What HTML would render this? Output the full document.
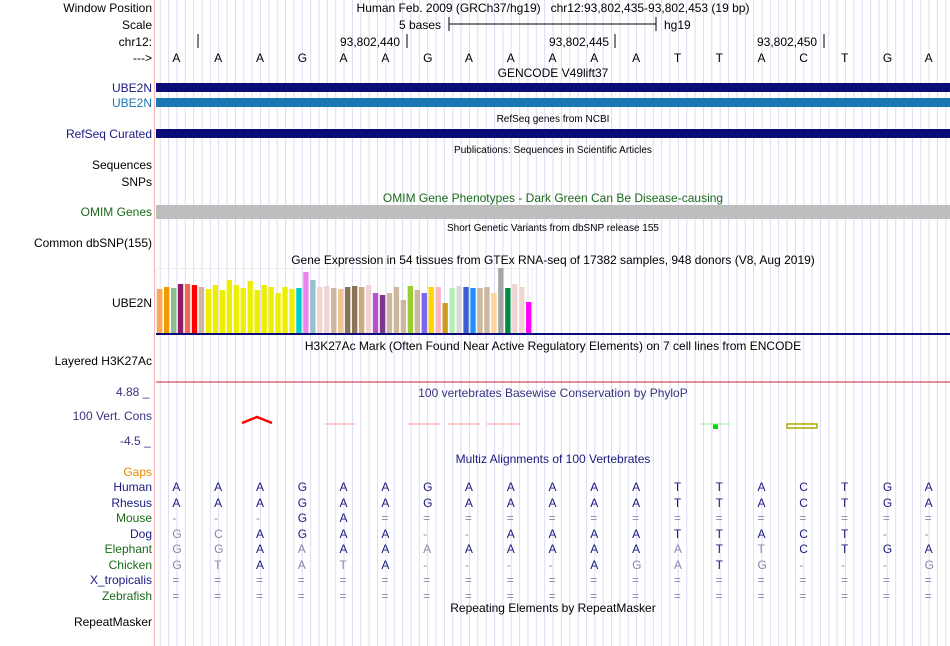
<!DOCTYPE html>
<html><head><meta charset="utf-8"><style>
body{margin:0;width:950px;height:646px;background:#fff;position:relative;overflow:hidden;font-family:"Liberation Sans",sans-serif;font-size:12px;color:#000}
.a{position:absolute;white-space:nowrap}
.l{position:absolute;right:798px;text-align:right;white-space:nowrap}
.c{position:absolute;left:156px;width:794px;text-align:center;white-space:nowrap}
</style></head><body>
<svg id="grid" width="950" height="646" style="position:absolute;left:0;top:0"></svg>
<div class="l" style="top:1px">Window Position</div>
<div class="l" style="top:18px">Scale</div>
<div class="l" style="top:35px">chr12:</div>
<div class="l" style="top:51px">---&gt;</div>
<div class="c" style="top:1px">Human Feb. 2009 (GRCh37/hg19)&nbsp;&nbsp; chr12:93,802,435-93,802,453 (19 bp)</div>
<div class="a" style="left:399px;top:18px">5 bases</div>
<div class="a" style="left:664px;top:18px">hg19</div>
<div class="a" style="left:340px;top:35px">93,802,440</div>
<div class="a" style="left:549px;top:35px">93,802,445</div>
<div class="a" style="left:757px;top:35px">93,802,450</div>
<div class="c" style="top:66px">GENCODE V49lift37</div>
<div class="l" style="top:81px;color:#1a1a80">UBE2N</div>
<div class="l" style="top:96px;color:#1b76b4">UBE2N</div>
<div class="c" style="top:114px;font-size:10px">RefSeq genes from NCBI</div>
<div class="l" style="top:127px;color:#1a1a80">RefSeq Curated</div>
<div class="c" style="top:145px;font-size:10px">Publications: Sequences in Scientific Articles</div>
<div class="l" style="top:158px">Sequences</div>
<div class="l" style="top:175px">SNPs</div>
<div class="c" style="top:191px;color:#1a6a1a">OMIM Gene Phenotypes - Dark Green Can Be Disease-causing</div>
<div class="l" style="top:205px;color:#1a6a1a">OMIM Genes</div>
<div class="c" style="top:223px;font-size:10px">Short Genetic Variants from dbSNP release 155</div>
<div class="l" style="top:236px">Common dbSNP(155)</div>
<div class="c" style="top:253px">Gene Expression in 54 tissues from GTEx RNA-seq of 17382 samples, 948 donors (V8, Aug 2019)</div>
<div class="l" style="top:296px">UBE2N</div>
<div class="c" style="top:339px">H3K27Ac Mark (Often Found Near Active Regulatory Elements) on 7 cell lines from ENCODE</div>
<div class="l" style="top:354px">Layered H3K27Ac</div>
<div class="a" style="left:116px;top:385px;color:#333380">4.88 _</div>
<div class="c" style="top:386px;color:#333380">100 vertebrates Basewise Conservation by PhyloP</div>
<div class="l" style="top:409px;color:#333380">100 Vert. Cons</div>
<div class="a" style="left:120px;top:434px;color:#333380">-4.5 _</div>
<div class="c" style="top:452px;color:#1a1a80">Multiz Alignments of 100 Vertebrates</div>
<div class="c" style="top:601px">Repeating Elements by RepeatMasker</div>
<div class="l" style="top:615px">RepeatMasker</div>
<div id="txt"></div>
<script>
const bases="AAAGAAGAAAAATTACTGA".split("");
const gtexValues=[44,46,45,49,49,48,46,44,48,43,53,48,45,52,43,48,46,40,46,44,45,61,53,46,47,45,44,46,47,46,48,40,38,40,46,33,47,43,40,46,46,30,45,47,46,45,45,46,40,65,45,49,46,31];
const gtexColors=["#ffa54f","#ee9a00","#8fbc8f","#8b1c62","#ee6a50","#ff0000","#cdb79e","#eeee00","#eeee00","#eeee00","#eeee00","#eeee00","#eeee00","#eeee00","#eeee00","#eeee00","#eeee00","#eeee00","#eeee00","#eeee00","#00cdcd","#ee82ee","#9ac0cd","#eed5d2","#eed5d2","#cdb79e","#eec591","#8b7355","#8b7355","#cdaa7d","#eed5d2","#b452cd","#7a378b","#cdb79e","#cdb79e","#cdb79e","#9acd32","#cdb79e","#7b68ee","#ffd700","#ffb6c1","#cd9b1d","#b4eeb4","#d9d9d9","#3a5fcd","#1e90ff","#cdb79e","#cdb79e","#ffd39b","#a6a6a6","#008b45","#eed5d2","#eed5d2","#ff00ff"];
const species=["Human","Rhesus","Mouse","Dog","Elephant","Chicken","X_tropicalis","Zebrafish"];
const spColors=["#1a1a80","#1a1a80","#1a6a1a","#1a1a80","#1a6a1a","#1a6a1a","#1a1a80","#1a6a1a"];
const alignRows=["AAAGAAGAAAAATTACTGA","AAAGAAGAAAAATTACTGA","---GA==============","GCAGAA--AAAATTACT--","GGAAAAAAAAAAATTCTGA","GTAATA----AGATG---G","===================","==================="];
const gapShown="Gaps";
const NS="http://www.w3.org/2000/svg";
const g=document.getElementById("grid");
const X0=156,W=794,bw=W/19;
function bx(i){return X0+bw*(i+0.5);}
function add(tag,at){const e=document.createElementNS(NS,tag);for(const k in at)e.setAttribute(k,at[k]);g.appendChild(e);return e;}
for(let x=X0+4.2;x<950;x+=bw/5){const e=add("line",{x1:x,x2:x,y1:0,y2:646,stroke:"#dcdcf5","stroke-width":1});}
add("line",{x1:154.5,x2:154.5,y1:0,y2:646,stroke:"#f5b5b5"});
add("line",{x1:449,x2:656,y1:24,y2:24,stroke:"#000"});add("line",{x1:449,x2:449,y1:17,y2:31,stroke:"#000"});add("line",{x1:656,x2:656,y1:17,y2:31,stroke:"#000"});
[198,407,615,824].forEach(x=>add("line",{x1:x,x2:x,y1:34,y2:48,stroke:"#000"}));
let r=add("rect",{x:156,y:83,width:794,height:9,fill:"#0c0c78"});
r=add("rect",{x:156,y:98,width:794,height:9,fill:"#1b76b4"});
r=add("rect",{x:156,y:129,width:794,height:9,fill:"#0c0c78"});
r=add("rect",{x:156,y:205,width:794,height:14,fill:"#bebebe"});
add("rect",{x:156.5,y:268.5,width:376,height:65,fill:"none",stroke:"#eee"});
const base=333,scale=1,pitch=376/54;
gtexValues.forEach((v,i)=>{const b=add("rect",{x:157+i*pitch,y:base-v*scale,width:pitch-1.6,height:v*scale,fill:gtexColors[i]});

});
add("rect",{x:156,y:333,width:794,height:2,fill:"#0c0c78"});
add("line",{x1:156,x2:950,y1:382,y2:382,stroke:"#cc2233"});
add("path",{d:"M242 423 L257 417 L272 423",stroke:"#f00","stroke-width":2.5,fill:"none"});
[[325,355],[408,440],[448,480],[487,520]].forEach(s=>add("line",{x1:s[0],x2:s[1],y1:424,y2:424,stroke:"#f99","stroke-width":1}));
add("rect",{x:713,y:424,width:5,height:5,fill:"#0d0"});add("line",{x1:700,x2:730,y1:424,y2:424,stroke:"#9e9"});
add("rect",{x:787,y:424,width:30,height:4,fill:"none",stroke:"#aa0","stroke-width":1.5});
const t=document.getElementById("txt");
function txt(s,x,y,c,n){const d=document.createElement("div");d.className="a";d.style.left=(x-4)+"px";d.style.top=y+"px";d.style.color=c;d.textContent=s;


t.appendChild(d);}
bases.forEach((b,i)=>txt(b,bx(i)-0.5,51,"#000","ref-base"));
const gd=document.createElement("div");gd.className="l";gd.style.top="465px";gd.style.color="#e88a00";gd.textContent=gapShown;


t.appendChild(gd);
species.forEach((s,k)=>{const y=480+k*15.5;const d=document.createElement("div");d.className="l";d.style.top=y+"px";d.style.color=spColors[k];d.textContent=s;


t.appendChild(d);
const row=alignRows[k];
for(let i=0;i<19;i++){const ch=row[i];if(!ch)continue;const match=ch===bases[i];txt(ch,bx(i)-0.5,y,match?"#1a1a80":"#8888aa","align-base");}
});
</script>
</body></html>
